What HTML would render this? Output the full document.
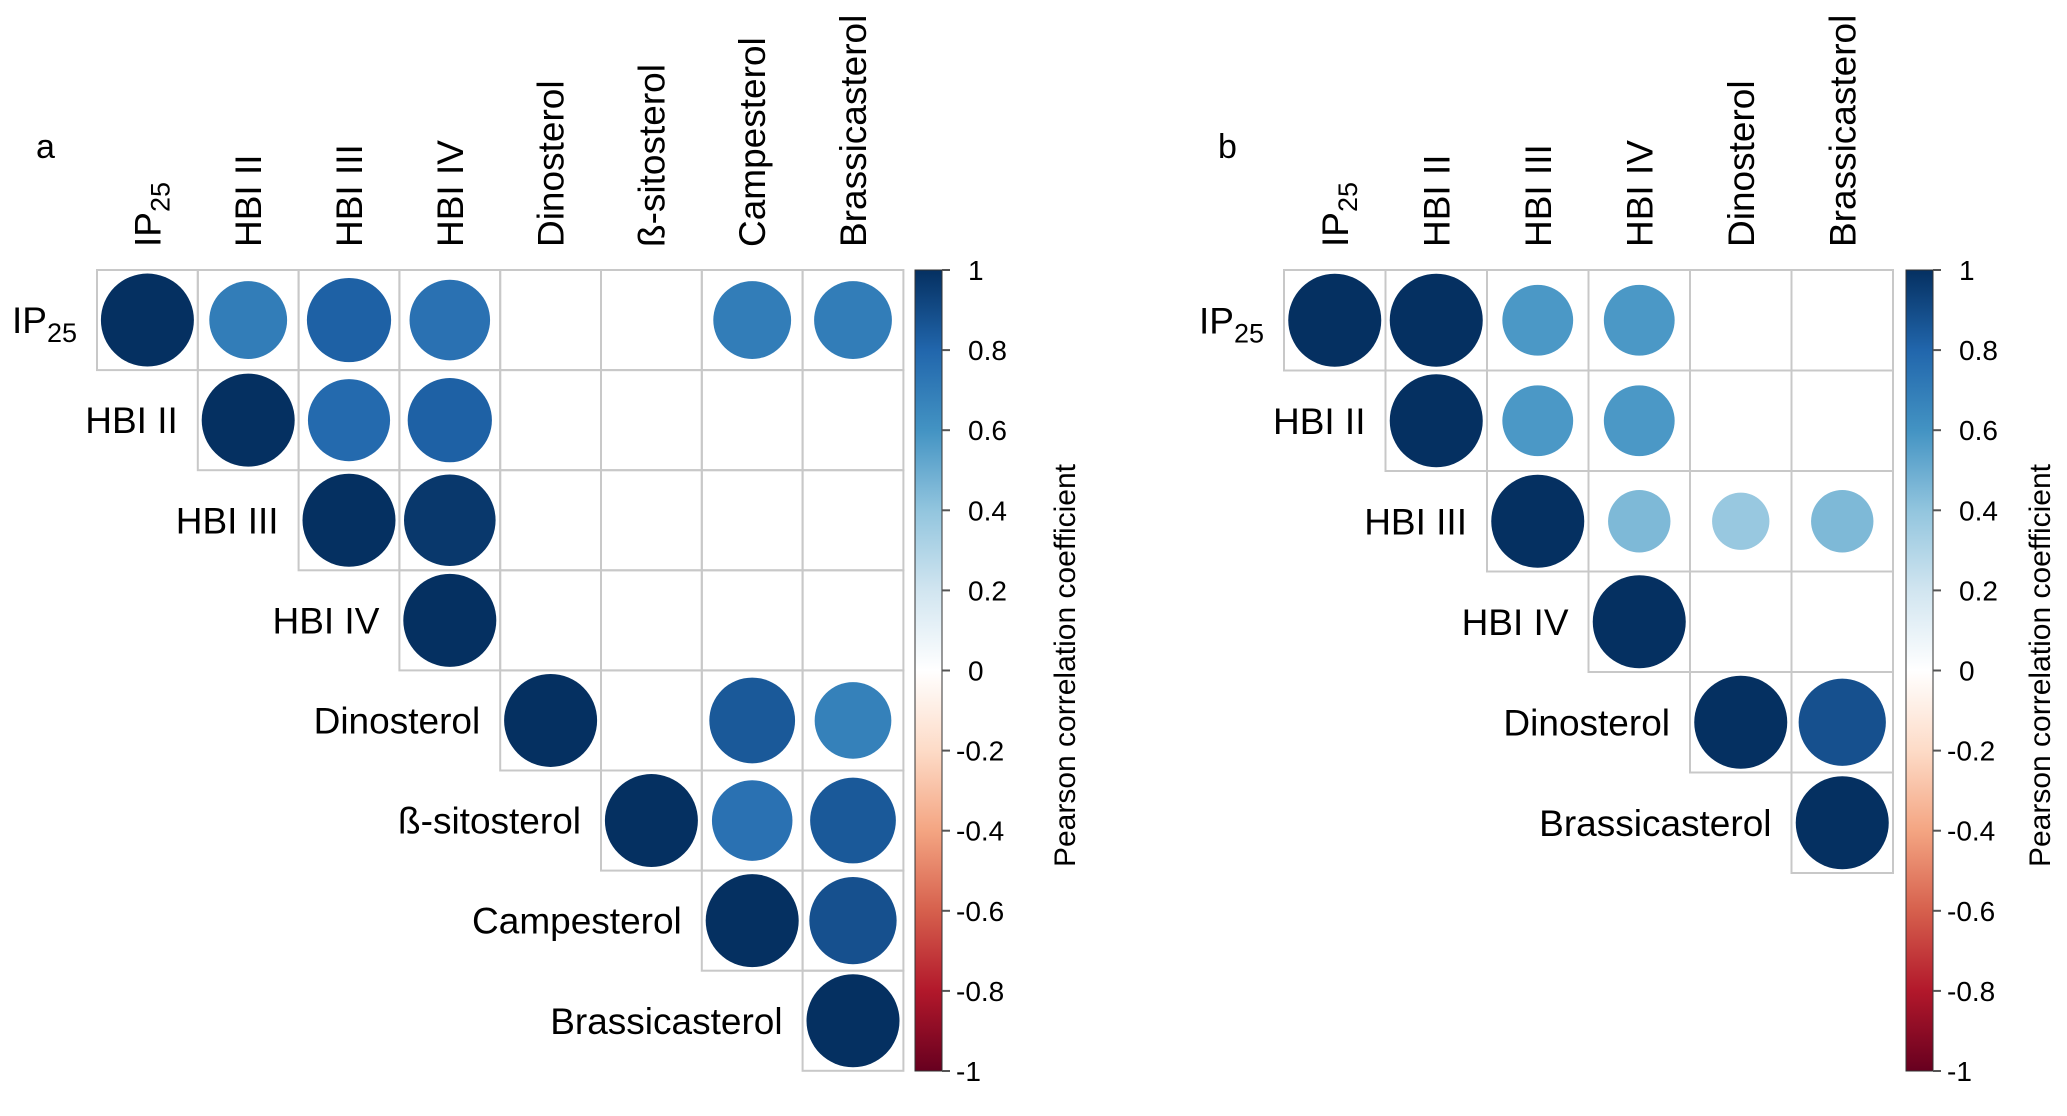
<!DOCTYPE html>
<html><head><meta charset="utf-8"><style>
html,body{margin:0;padding:0;background:#fff;}
svg{display:block;font-family:"Liberation Sans",Arial,sans-serif;}
</style></head><body>
<svg id="fig" width="2067" height="1116" viewBox="0 0 2067 1116" xmlns="http://www.w3.org/2000/svg">
<defs>
<linearGradient id="cbgrad" x1="0" y1="0" x2="0" y2="1">
<stop offset="0" stop-color="#053061"/><stop offset="0.1" stop-color="#2166AC"/><stop offset="0.2" stop-color="#4393C3"/><stop offset="0.3" stop-color="#92C5DE"/><stop offset="0.4" stop-color="#D1E5F0"/><stop offset="0.5" stop-color="#FFFFFF"/><stop offset="0.6" stop-color="#FDDBC7"/><stop offset="0.7" stop-color="#F4A582"/><stop offset="0.8" stop-color="#D6604D"/><stop offset="0.9" stop-color="#B2182B"/><stop offset="1" stop-color="#67001F"/>
</linearGradient>
</defs>
</svg>
<script>
// Panel a data
const varsA = ["IP25","HBI II","HBI III","HBI IV","Dinosterol","ß-sitosterol","Campesterol","Brassicasterol"];
const corrA = [
 [1,0.7,0.82,0.75,null,null,0.7,0.7],
 [null,1,0.78,0.82,null,null,null,null],
 [null,null,1,0.97,null,null,null,null],
 [null,null,null,1,null,null,null,null],
 [null,null,null,null,1,null,0.85,0.68],
 [null,null,null,null,null,1,0.75,0.85],
 [null,null,null,null,null,null,1,0.88],
 [null,null,null,null,null,null,null,1]
];
// Panel b data
const varsB = ["IP25","HBI II","HBI III","HBI IV","Dinosterol","Brassicasterol"];
const corrB = [
 [1,1,0.58,0.58,null,null],
 [null,1,0.58,0.58,null,null],
 [null,null,1,0.45,0.38,0.45],
 [null,null,null,1,null,null],
 [null,null,null,null,1,0.88],
 [null,null,null,null,null,1]
];
const tickLabels = ["1","0.8","0.6","0.4","0.2","0","-0.2","-0.4","-0.6","-0.8","-1"];
const tickValues = [1,0.8,0.6,0.4,0.2,0,-0.2,-0.4,-0.6,-0.8,-1];

const NS="http://www.w3.org/2000/svg";
const svg=document.getElementById('fig');
const stops=["#67001F","#B2182B","#D6604D","#F4A582","#FDDBC7","#FFFFFF","#D1E5F0","#92C5DE","#4393C3","#2166AC","#053061"];
function hex(h){return [1,3,5].map(i=>parseInt(h.substr(i,2),16));}
function color(v){
  const t=(v+1)/2*10; const i=Math.min(9,Math.floor(t)); const f=t-i;
  const a=hex(stops[i]), b=hex(stops[i+1]);
  return "rgb("+a.map((c,k)=>Math.round(c+(b[k]-c)*f)).join(",")+")";
}
function mk(tag,attrs,parent){const e=document.createElementNS(NS,tag);for(const k in attrs)e.setAttribute(k,attrs[k]);(parent||svg).appendChild(e);return e;}
function label(g,name,x,y,anchor,rot,dn){
  const t=mk('text',{x:x,y:y,'font-size':37,'text-anchor':anchor,fill:'#000'},g);
  if(rot) t.setAttribute('transform','rotate(-90 '+x+' '+y+')');
  
  
  if(name==="IP25"){t.textContent="IP";const s=mk('tspan',{'font-size':27,dy:9},t);s.textContent="25";}
  else t.textContent=name;
}
function panel(vars,corr,left,top,cw,ch,cbx,letter,lx,pname,titleX){
  const g=mk('g',{});
  
  
  const n=vars.length;
  const xs=j=>left+j*cw, ys=i=>top+i*ch;
  const pl=mk('text',{x:lx,y:158,'font-size':34,fill:'#000'},g);pl.textContent=letter;
  
  
  for(let i=0;i<n;i++){
    for(let j=i;j<n;j++){
      const r=mk('rect',{x:xs(j),y:ys(i),width:cw,height:ch,fill:'none',stroke:'#c8c8c8','stroke-width':2},g);
      
      
      const v=corr[i][j];
      if(v!==null){
        const c=mk('circle',{cx:xs(j)+cw/2,cy:ys(i)+ch/2,r:46.5*Math.sqrt(Math.abs(v)),fill:color(v)},g);
        
        
      }
    }
  }
  for(let j=0;j<n;j++) label(g,vars[j],xs(j)+cw/2+13,247,'start',true,'column-label');
  for(let i=0;i<n;i++) label(g,vars[i],xs(i)-20,ys(i)+ch/2+13,'end',false,'row-label');
  // colorbar
  const cbTop=270, cbH=801, cbW=27;
  const yv=v=>cbTop+(1-v)/2*cbH;
  const cb=mk('rect',{x:cbx,y:cbTop,width:cbW,height:cbH,fill:'url(#cbgrad)',stroke:'#333','stroke-width':1},g);
  
  
  for(let k=0;k<tickValues.length;k++){
    const y=yv(tickValues[k]);
    const tk=mk('line',{x1:cbx+cbW,x2:cbx+cbW+8,y1:y,y2:y,stroke:'#555','stroke-width':2},g);
    
    
    const tl=mk('text',{x:cbx+cbW+(tickLabels[k].startsWith('-')?14:26),y:y+10,'font-size':28,fill:'#000'},g);
    tl.textContent=tickLabels[k];
    
    
  }
  const tx=titleX, ty=cbTop+cbH/2-5;
  const tt=mk('text',{x:tx,y:ty,'font-size':30,'text-anchor':'middle',transform:'rotate(-90 '+tx+' '+ty+')',fill:'#000'},g);
  tt.textContent="Pearson correlation coefficient";
  
  
}
panel(varsA,corrA,97,270,100.8,100.1,915,'a',36,'panel-a',1075);
panel(varsB,corrB,1284,270,101.5,100.5,1906,'b',1218,'panel-b',2050);
</script>
</body></html>
